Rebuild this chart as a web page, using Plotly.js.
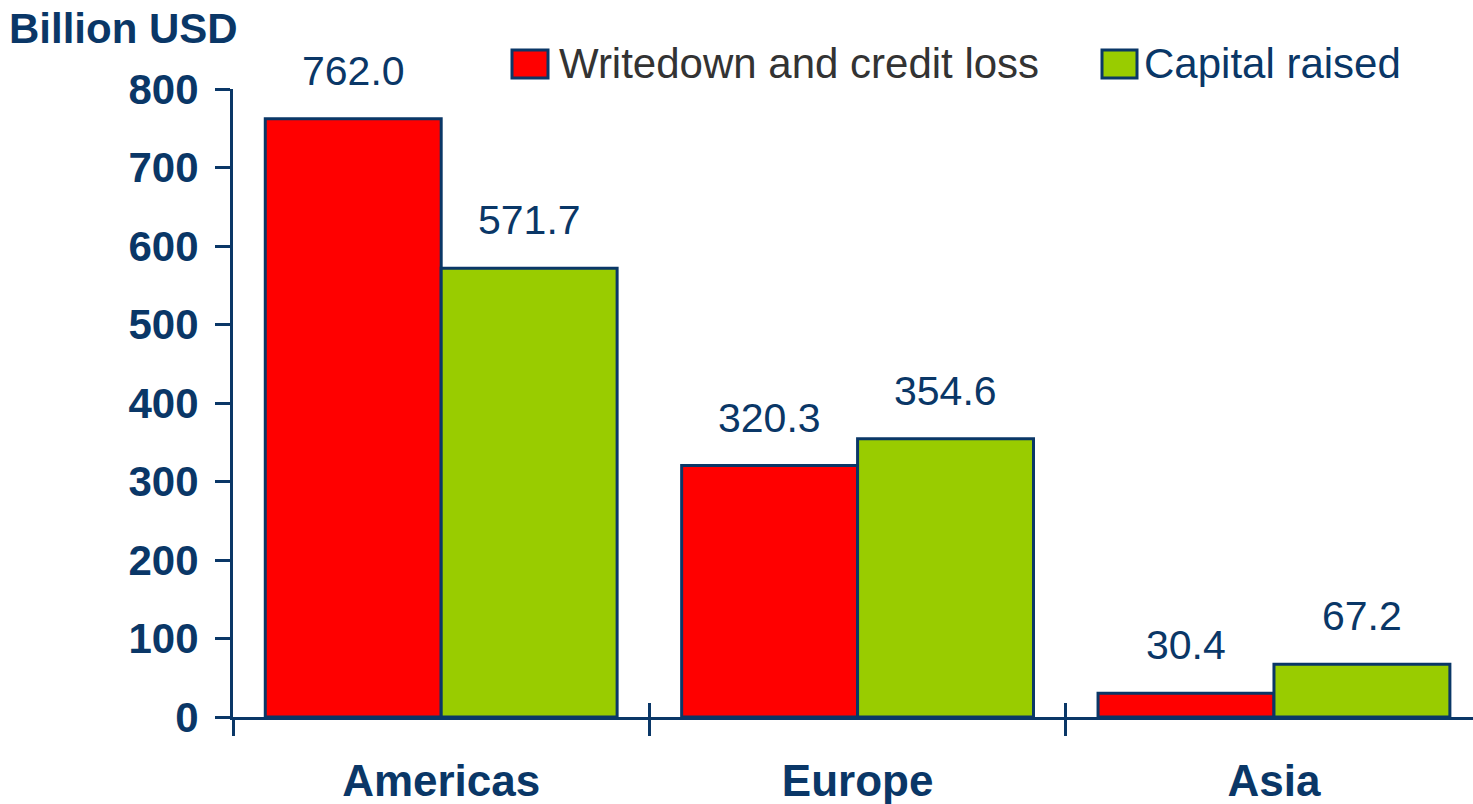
<!DOCTYPE html>
<html>
<head>
<meta charset="utf-8">
<script src="https://cdn.plot.ly/plotly-3.0.1.min.js"></script>
<style>html,body{margin:0;padding:0;background:#fff;}#chart{width:1473px;height:804px;}</style>
</head>
<body>
<div id="chart"></div>
<script>
// ---- data ----
const categories = ["Americas", "Europe", "Asia"];
const seriesNames = ["Writedown and credit loss", "Capital raised"];
const writedown = [762.0, 320.3, 30.4];
const capitalRaised = [571.7, 354.6, 67.2];
const yTickValues = [0, 100, 200, 300, 400, 500, 600, 700, 800];

// ---- styles ----
const NAVY = "#0A3767";
const RED = "#FF0000";
const GREEN = "#99CC00";
const FONT = "Liberation Sans, Arial, sans-serif";

const W = 1473, H = 804;
const M = {l: 233, r: 0, t: 89, b: 87};
const plotW = W - M.l - M.r, plotH = H - M.t - M.b;
const px = x => (x - M.l) / plotW;
const py = y => (H - M.b - y) / plotH;

const bargap = 0.155;
const barW = (1 - bargap) / 2;
const xRange = [-0.5, 2.478];

const traces = [
  {type: "bar", x: categories, y: writedown, name: seriesNames[0],
   marker: {color: RED, line: {color: NAVY, width: 3}}, hoverinfo: "x+y"},
  {type: "bar", x: categories, y: capitalRaised, name: seriesNames[1],
   marker: {color: GREEN, line: {color: NAVY, width: 3}}, hoverinfo: "x+y"},
  // invisible trace on overlaying axis to draw crossing (inside) ticks
  {type: "bar", x: categories, y: [0, 0, 0], xaxis: "x2", showlegend: false,
   hoverinfo: "skip", marker: {color: "rgba(0,0,0,0)"}}
];

const annotations = [];
[writedown, capitalRaised].forEach((vals, s) => {
  const off = (s === 0 ? -1 : 1) * barW / 2;
  vals.forEach((v, i) => {
    annotations.push({
      x: i + off, y: v, xref: "x", yref: "y",
      text: v.toFixed(1), showarrow: false,
      xanchor: "center", yanchor: "bottom", yshift: 23,
      font: {family: FONT, size: 41, color: NAVY}
    });
  });
});

// legend (drawn manually to get large swatches)
const legendItems = [
  {name: seriesNames[0], color: RED, textColor: "#333333", x0: 512, x1: 548, tx: 557},
  {name: seriesNames[1], color: GREEN, textColor: NAVY, x0: 1102, x1: 1137, tx: 1142}
];
const shapes = [];
legendItems.forEach(it => {
  shapes.push({type: "rect", xref: "paper", yref: "paper",
    x0: px(it.x0), x1: px(it.x1), y0: py(78), y1: py(50),
    fillcolor: it.color, line: {color: NAVY, width: 3}});
  annotations.push({xref: "paper", yref: "paper", x: px(it.tx), y: py(64),
    xanchor: "left", yanchor: "middle", showarrow: false, text: it.name,
    font: {family: FONT, size: 42, color: it.textColor}});
});

const layout = {
  width: W, height: H,
  margin: M,
  paper_bgcolor: "#fff", plot_bgcolor: "#fff",
  showlegend: false,
  barmode: "group", bargap: bargap, bargroupgap: 0,
  title: {text: "<b>Billion USD</b>", xref: "container", yref: "container",
    x: 9 / W, xanchor: "left", y: 1 - 14 / H, yanchor: "top",
    font: {family: FONT, size: 42, color: NAVY}},
  xaxis: {
    type: "category", range: xRange, fixedrange: true,
    showline: true, linecolor: NAVY, linewidth: 3,
    ticks: "outside", ticklen: 16, tickwidth: 3, tickcolor: NAVY,
    tickson: "boundaries", showgrid: false, zeroline: false,
    tickfont: {family: FONT, size: 44, color: NAVY, weight: "bold"},
    ticklabelstandoff: 23
  },
  xaxis2: {
    type: "category", range: xRange, overlaying: "x", anchor: "y",
    side: "bottom", ticks: "inside", ticklen: 14, tickwidth: 3, tickcolor: NAVY,
    tickson: "boundaries", showticklabels: false, showgrid: false,
    showline: false, zeroline: false, fixedrange: true
  },
  yaxis: {
    range: [0, 800], tickvals: yTickValues, fixedrange: true,
    showline: true, linecolor: NAVY, linewidth: 3,
    ticks: "outside", ticklen: 15, tickwidth: 3, tickcolor: NAVY,
    showgrid: false, zeroline: false,
    tickfont: {family: FONT, size: 42, color: NAVY, weight: "bold"},
    ticklabelstandoff: 8
  },
  annotations: annotations,
  shapes: shapes
};

Plotly.newPlot("chart", traces, layout, {displayModeBar: false, staticPlot: true});
</script>
</body>
</html>
